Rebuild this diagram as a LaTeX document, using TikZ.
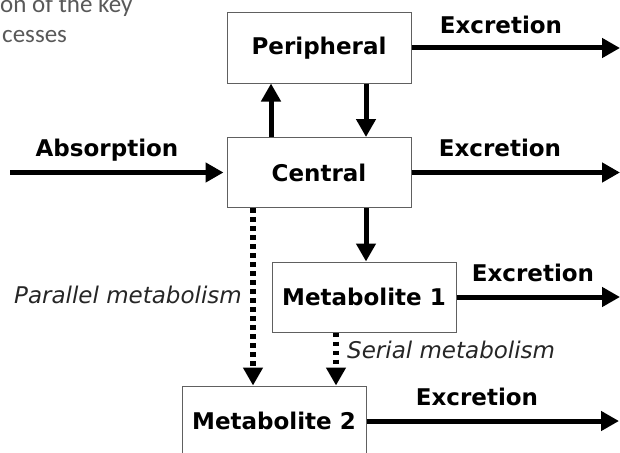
\documentclass[tikz,border=0pt]{standalone}
\usepackage{fontspec}
\setmainfont{DejaVu Sans}
\newfontfamily\capfont{Carlito}
\usetikzlibrary{arrows.meta}
\definecolor{boxgray}{HTML}{606060}
\definecolor{capgray}{HTML}{595959}

\begin{document}
\begin{tikzpicture}[x=1pt,y=-1pt,
  box/.style={draw=boxgray,line width=1pt,minimum width=184pt,minimum height=70pt,
    inner sep=0pt,font=\fontsize{23}{27}\selectfont\bfseries},
  lab/.style={inner sep=0pt,font=\fontsize{23}{27}\selectfont\bfseries},
  pathlab/.style={inner sep=0pt,text=black!85,font=\fontsize{23}{27}\selectfont\itshape},
  caption/.style={inner sep=0pt,anchor=base west,text=capgray,font=\capfont\fontsize{25}{30}\selectfont},
  arr/.style={line width=5pt,-{Triangle[length=18pt,width=19pt]}},
  dotarr/.style={arr,line width=5.5pt,dash pattern=on 4.5pt off 4.5pt}]
\useasboundingbox (0,0) rectangle (620,452);
\clip (0,0) rectangle (620,452);

% compartments
\node[box] (per) at (319,48) {Peripheral};
\node[box] (cen) at (319,172.5) {Central};
\node[box] (met1) at (364,297) {Metabolite 1};
\node[box] (met2) at (274,421) {Metabolite 2};

% free ends
\coordinate (absin) at (10,172.5);
\coordinate (exper) at (620,48);
\coordinate (excen) at (620,172.5);
\coordinate (exmet1) at (620,297);
\coordinate (exmet2) at (619,421);

\draw[arr,shorten >=3pt] (absin) -- (cen.west);
\draw[arr] (per.east) -- (exper);
\draw[arr] (cen.east) -- (excen);
\draw[arr] (met1.east) -- (exmet1);
\draw[arr] (met2.east) -- (exmet2);

\draw[arr] ([xshift=-48pt]cen.north) -- ([xshift=-48pt]per.south);
\draw[arr] ([xshift=47pt]per.south) -- ([xshift=47pt]cen.north);
\draw[arr] ([xshift=47pt]cen.south) -- ([xshift=2pt]met1.north);
\draw[dotarr] ([xshift=-66pt]cen.south) -- ([xshift=-21pt]met2.north);
\draw[dotarr] ([xshift=-28pt]met1.south) -- ([xshift=62pt]met2.north);

% labels
\node[lab] (absl) at (107,150) {Absorption};
\node[lab] (exlper) at (501,25) {Excretion};
\node[lab] (exlcen) at (500,148) {Excretion};
\node[lab] (exlmet1) at (533,273) {Excretion};
\node[lab] (exlmet2) at (477,397) {Excretion};
\node[pathlab,anchor=east] (parl) at (242,295) {Parallel metabolism};
\node[pathlab,anchor=west] (serl) at (347,350) {Serial metabolism};

% cut caption
\node[caption] (capa) at (0,13) {on of the key};
\node[caption] (capb) at (2,42) {cesses};
\end{tikzpicture}
\end{document}
